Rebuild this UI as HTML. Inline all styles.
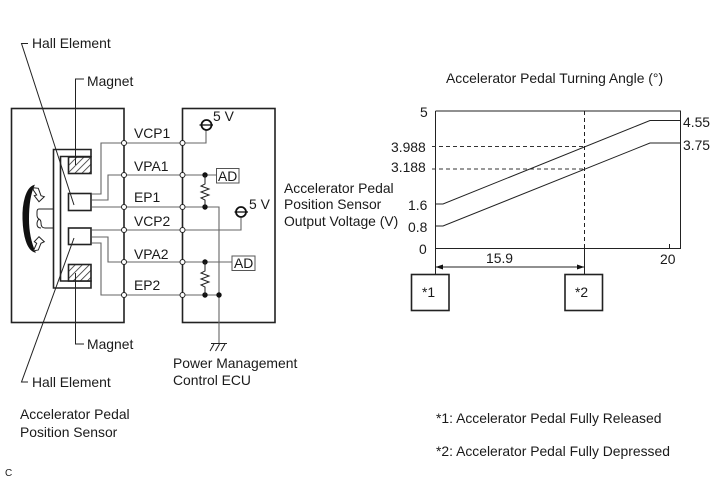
<!DOCTYPE html>
<html><head><meta charset="utf-8">
<style>
html,body{margin:0;padding:0;background:#fff;width:713px;height:481px;overflow:hidden}
svg{display:block}
text{font-family:"Liberation Sans",sans-serif;font-size:13.9px;fill:#1a1a1a}
.b{fill:none;stroke:#222;stroke-width:1.6}
.t{fill:none;stroke:#222;stroke-width:1}
.g{fill:none;stroke:#666;stroke-width:1.1}
.d{fill:none;stroke:#333;stroke-width:1;stroke-dasharray:4 3}
.o{fill:#fff;stroke:#222;stroke-width:1}
</style></head><body>
<svg width="713" height="481" viewBox="0 0 713 481" xmlns="http://www.w3.org/2000/svg">
<defs>
<pattern id="h" width="5" height="5" patternUnits="userSpaceOnUse" patternTransform="rotate(45)">
<rect width="5" height="5" fill="#fff"/><line x1="0" y1="0" x2="0" y2="5" stroke="#333" stroke-width="1.6"/>
</pattern>
</defs>

<!-- sensor box and ECU box -->
<rect class="b" x="11.5" y="108.5" width="112.5" height="214"/>
<rect class="b" x="182.5" y="108.5" width="92.5" height="214"/>

<!-- wires -->
<path class="g" d="M124 143H101V194H92M124 175H108V200H92M92 207H182M92 230H182M92 237H108V262H182M92 243H101V295H182"/>
<path class="g" d="M124 143H182M124 175H182"/>
<path class="g" d="M182 143H206V130M182 175H216M182 207H219V344M182 230H241V218M182 262H232M182 295H219"/>

<!-- sensor -->
<path class="b" d="M91 149.500H53.500V288H91V281H60.500V156.500H91Z" fill="#fff"/>
<rect x="68.500" y="157" width="22.500" height="16.500" fill="url(#h)" stroke="#222" stroke-width="1.6"/>
<rect x="68.500" y="264.500" width="22.500" height="16.500" fill="url(#h)" stroke="#222" stroke-width="1.6"/>
<rect class="b" x="68.500" y="193.500" width="22.500" height="17" fill="#fff"/>
<rect class="b" x="68.500" y="228" width="22.500" height="16.500" fill="#fff"/>

<!-- shaft -->
<path class="t" stroke-width="1.4" d="M53 209H39Q37 209 37 212V215Q37 218 39 219Q41 220 41 223Q41 228 45 228H53"/>
<path class="t" stroke-width="1.2" d="M39 219Q37 221 37 224Q37 228 41 228"/>

<!-- rotation arrow -->
<path d="M34 185.500C26 188 22.500 204 23 219C23.500 235 27 250 35 252C31 243 28.500 232 28.500 219C28.500 206 30 194 34 185.500Z" fill="#111" stroke="#111" stroke-width="1"/>
<path class="o" stroke-width="1.1" d="M33.300 187.700L38.300 188.300L41 195.700L44.300 196.700L39 201.700L34.300 195.700L36.700 195L33.300 190Z"/>
<path class="o" stroke-width="1.1" d="M39 236.700L44.300 241.700L41 243.300L38.300 250L33.300 251L36.700 243.300L34.300 241.700Z"/>

<!-- leader lines -->
<path class="t" d="M28 43.500H21.500L74 205"/>
<path class="t" d="M84 79H75.500V165"/>
<path class="t" d="M75.500 273V344H84"/>
<path class="t" d="M74 238L21.500 382H28"/>

<!-- junction circles -->
<g class="o">
<circle cx="124" cy="143" r="2.500"/><circle cx="124" cy="175" r="2.500"/><circle cx="124" cy="207" r="2.500"/>
<circle cx="124" cy="230" r="2.500"/><circle cx="124" cy="262" r="2.500"/><circle cx="124" cy="295" r="2.500"/>
<circle cx="182.500" cy="143" r="2.500"/><circle cx="182.500" cy="175" r="2.500"/><circle cx="182.500" cy="207" r="2.500"/>
<circle cx="182.500" cy="230" r="2.500"/><circle cx="182.500" cy="262" r="2.500"/><circle cx="182.500" cy="295" r="2.500"/>
</g>

<!-- 5V symbols -->
<circle cx="206.500" cy="125" r="5" fill="#fff" stroke="#111" stroke-width="1.800"/>
<path d="M199.500 125H213" stroke="#111" stroke-width="1.300"/>
<circle cx="241" cy="212" r="5" fill="#fff" stroke="#111" stroke-width="1.800"/>
<path d="M234.500 212H248" stroke="#111" stroke-width="1.300"/>

<!-- AD boxes -->
<rect x="216.500" y="168.500" width="22.500" height="14.500" fill="#fff" stroke="#555" stroke-width="1"/>
<rect x="232" y="256" width="23" height="14.500" fill="#fff" stroke="#555" stroke-width="1"/>

<!-- dots -->
<g fill="#111">
<circle cx="205" cy="175" r="2.700"/><circle cx="205" cy="207" r="2.700"/>
<circle cx="205" cy="262" r="2.700"/><circle cx="205" cy="295" r="2.700"/><circle cx="219" cy="295" r="2.700"/>
</g>

<!-- resistors -->
<path class="t" stroke-width="1.200" d="M205 175V184L201 186L209 189L201 192L209 195L201 198L205 200V207"/>
<path class="t" stroke-width="1.200" d="M205 262V271L201 273L209 276L201 279L209 282L201 285L205 287V295"/>

<!-- ground -->
<path class="t" stroke-width="1.200" d="M211 343.500H227M210 351L214 344M215.500 351L219.500 344M221 351L225 344"/>

<!-- left labels -->
<text x="32" y="48">Hall Element</text>
<text x="87" y="86">Magnet</text>
<text x="87" y="349">Magnet</text>
<text x="32" y="387">Hall Element</text>
<text x="20" y="419">Accelerator Pedal</text>
<text x="20" y="437">Position Sensor</text>
<text x="5" y="476" style="font-size:10px">C</text>
<text x="134" y="138">VCP1</text>
<text x="134" y="171">VPA1</text>
<text x="134" y="202">EP1</text>
<text x="134" y="226">VCP2</text>
<text x="134" y="259">VPA2</text>
<text x="134" y="290">EP2</text>
<text x="213" y="121">5 V</text>
<text x="249" y="209">5 V</text>
<text x="218" y="181">AD</text>
<text x="234" y="268">AD</text>
<text x="173" y="368">Power Management</text>
<text x="173" y="385">Control ECU</text>
<text x="284" y="193">Accelerator Pedal</text>
<text x="284" y="209">Position Sensor</text>
<text x="284" y="226">Output Voltage (V)</text>

<!-- chart -->
<path class="t" stroke="#333" d="M435.500 111H680.500V248.500H435.500V274"/>
<path class="t" d="M435.500 111V248"/>
<path class="d" d="M432 146.500H584M432 169H584"/>
<path d="M584.500 111V248" fill="none" stroke="#222" stroke-width="1" stroke-dasharray="4 3"/>
<path class="t" d="M584.500 248V274M669.500 244V248.500"/>
<path class="t" stroke-width="1.200" d="M435.500 204H443L650 120.500H680.500"/>
<path class="t" stroke-width="1.200" d="M435.500 226H443L650 143H680.500"/>
<path class="t" d="M436 267H584"/>
<path d="M435.500 267L443 264.500V269.500ZM584.500 267L577 264.500V269.500Z" fill="#111"/>
<rect class="b" stroke="#333" x="411.500" y="274.500" width="37.500" height="36"/>
<rect class="b" stroke="#333" x="565" y="274.500" width="37.500" height="36"/>

<text x="446" y="83">Accelerator Pedal Turning Angle (°)</text>
<text x="420" y="117">5</text>
<text x="391" y="152">3.988</text>
<text x="391" y="172">3.188</text>
<text x="408" y="210">1.6</text>
<text x="408" y="232">0.8</text>
<text x="419" y="254">0</text>
<text x="683" y="127">4.55</text>
<text x="683" y="150">3.75</text>
<text x="486" y="263">15.9</text>
<text x="660" y="264">20</text>
<text x="422" y="297">*1</text>
<text x="575" y="297">*2</text>
<text x="436" y="423">*1: Accelerator Pedal Fully Released</text>
<text x="436" y="456">*2: Accelerator Pedal Fully Depressed</text>
</svg>
</body></html>
